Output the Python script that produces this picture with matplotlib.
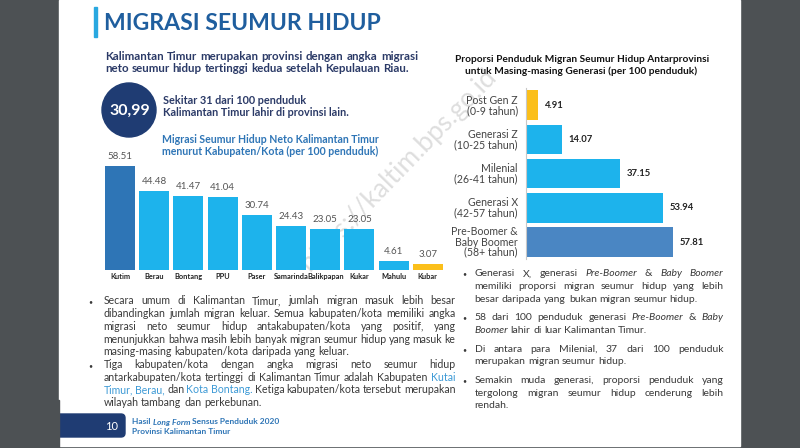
import matplotlib
matplotlib.use("Agg")
import matplotlib.pyplot as plt
from matplotlib.patches import Rectangle, Circle, FancyBboxPatch

plt.rcParams['font.family'] = ['Lato', 'DejaVu Sans']

# --- data ---
kab_names = ['Kutim', 'Berau', 'Bontang', 'PPU', 'Paser', 'Samarinda',
             'Balikpapan', 'Kukar', 'Mahulu', 'Kubar']
kab_values = [58.51, 44.48, 41.47, 41.04, 30.74, 24.43, 23.05, 23.05, 4.61, 3.07]

gen_labels = ['Post Gen Z\n(0-9 tahun)', 'Generasi Z\n(10-25 tahun)',
              'Milenial\n(26-41 tahun)', 'Generasi X\n(42-57 tahun)',
              'Pre-Boomer &\nBaby Boomer\n(58+ tahun)']
gen_values = [4.91, 14.07, 37.15, 53.94, 57.81]

left_bullets = [
    ["Secara umum di Kalimantan Timur, jumlah migran masuk lebih besar",
     "dibandingkan jumlah migran keluar. Semua kabupaten/kota memiliki angka",
     "migrasi neto seumur hidup antakabupaten/kota yang positif, yang",
     "menunjukkan bahwa masih lebih banyak migran seumur hidup yang masuk ke",
     "masing-masing kabupaten/kota daripada yang keluar."],
    ["Tiga kabupaten/kota dengan angka migrasi neto seumur hidup",
     "antarkabupaten/kota tertinggi di Kalimantan Timur adalah Kabupaten ~Kutai",
     "~Timur, ~Berau, dan ~Kota ~Bontang. Ketiga kabupaten/kota tersebut merupakan",
     "wilayah tambang dan perkebunan."],
]
right_bullets = [
    ["Generasi X, generasi _Pre-Boomer & _Baby _Boomer",
     "memiliki proporsi migran seumur hidup yang lebih",
     "besar daripada yang bukan migran seumur hidup."],
    ["58 dari 100 penduduk generasi _Pre-Boomer & _Baby",
     "_Boomer lahir di luar Kalimantan Timur."],
    ["Di antara para Milenial, 37 dari 100 penduduk",
     "merupakan migran seumur hidup."],
    ["Semakin muda generasi, proporsi penduduk yang",
     "tergolong migran seumur hidup cenderung lebih",
     "rendah."],
]

# colours
NAVY = '#1f3c73'
DARK_TEXT = '#2b3a67'
TITLE_BLUE = '#1f5e9e'
MID_BLUE = '#2e75b6'
SKY = '#1db3ec'
YELLOW = '#fbbf1a'
BODY = '#3a3a3a'
LINK = '#3d9ad6'

kab_colors = [MID_BLUE] + [SKY] * 8 + [YELLOW]
gen_colors = [YELLOW, SKY, SKY, SKY, '#4a86c3']

fig = plt.figure(figsize=(8, 4.48), dpi=100, facecolor='#4d5154')
bg = fig.add_axes([0, 0, 1, 1])
bg.set_xlim(0, 800)
bg.set_ylim(448, 0)
bg.axis('off')
bg.add_patch(Rectangle((58.5, 0), 681, 446, color='white', zorder=0))
renderer = fig.canvas.get_renderer()


def word_props(tok):
    props = dict(color=BODY, style='normal')
    if tok.startswith('~'):
        props['color'] = LINK
        tok = tok[1:]
    if tok.startswith('_'):
        props['style'] = 'italic'
        tok = tok[1:]
    return tok, props


def draw_line(line, x0, x1, y, size, justify=True, weight='normal', base_color=None):
    words = []
    for tok in line.split():
        w, p = word_props(tok)
        if base_color is not None and p['color'] == BODY:
            p['color'] = base_color
        words.append((w, p))
    widths = []
    for w, p in words:
        t = bg.text(0, 0, w, fontsize=size, weight=weight, **p)
        widths.append(t.get_window_extent(renderer).width)
        t.remove()
    space = size * 100 / 72 * 0.25
    if justify and len(words) > 1:
        gap = max((x1 - x0 - sum(widths)) / (len(words) - 1), space * 0.6)
    else:
        gap = space
    x = x0
    for (w, p), wd in zip(words, widths):
        bg.text(x, y, w, fontsize=size, weight=weight, ha='left', va='baseline', zorder=5, **p)
        x += wd + gap


def draw_paragraphs(paras, bullet_x, x0, x1, baselines, size):
    k = 0
    for para in paras:
        for j, line in enumerate(para):
            y = baselines[k]
            if j == 0:
                bg.text(bullet_x, y - 2.5, '•', fontsize=5, color=BODY, ha='left', va='center')
            draw_line(line, x0, x1, y, size, justify=(j < len(para) - 1))
            k += 1


# --- header ---
bg.add_patch(Rectangle((94, 7), 2.5, 30, color='#29a8e0'))
bg.text(104, 30, 'MIGRASI SEUMUR HIDUP', fontsize=16.6, weight='bold',
        color=TITLE_BLUE, ha='left', va='baseline')

draw_line('Kalimantan Timur merupakan provinsi dengan angka migrasi', 105, 418, 60,
          8.3, justify=True, weight='bold', base_color=DARK_TEXT)
draw_line('neto seumur hidup tertinggi kedua setelah Kepulauan Riau.', 105, 418, 72.5,
          8.3, justify=False, weight='bold', base_color=DARK_TEXT)

bg.add_patch(Circle((129, 110), 27, color=NAVY, zorder=3))
bg.text(129.5, 110.5, '30,99', fontsize=11.5, weight='bold', color='white',
        ha='center', va='center', zorder=4)
bg.text(163, 103.5, 'Sekitar 31 dari 100 penduduk', fontsize=7.8, weight='bold',
        color=DARK_TEXT, ha='left', va='baseline')
bg.text(163, 116, 'Kalimantan Timur lahir di provinsi lain.', fontsize=7.8, weight='bold',
        color=DARK_TEXT, ha='left', va='baseline')

bg.text(162.5, 143, 'Migrasi Seumur Hidup Neto Kalimantan Timur', fontsize=7.6,
        weight='bold', color=MID_BLUE, ha='left', va='baseline')
bg.text(161.5, 155, 'menurut Kabupaten/Kota (per 100 penduduk)', fontsize=7.6,
        weight='bold', color=MID_BLUE, ha='left', va='baseline')

bg.text(582, 62.5, 'Proporsi Penduduk Migran Seumur Hidup Antarprovinsi', fontsize=7.25,
        weight='bold', color='#111111', ha='center', va='baseline')
bg.text(581, 74, 'untuk Masing-masing Generasi (per 100 penduduk)', fontsize=7.25,
        weight='bold', color='#111111', ha='center', va='baseline')

# --- left bar chart ---
pitch = 34.2
ymax = 65
px_per_unit = 1.769
ax1 = fig.add_axes([(120 - pitch / 2) / 800, (448 - 269.5) / 448,
                    10 * pitch / 800, ymax * px_per_unit / 448])
ax1.set_xlim(-0.5, 9.5)
ax1.set_ylim(0, ymax)
ax1.bar(range(len(kab_values)), kab_values, width=0.88, color=kab_colors)
for i, v in enumerate(kab_values):
    ax1.annotate(f'{v:.2f}', (i, v), xytext=(0, 7), textcoords='offset points',
                 ha='center', va='center', fontsize=7, color='#555555')
    ax1.annotate(kab_names[i], (i, 0), xytext=(0, -5.2), textcoords='offset points',
                 ha='center', va='center', fontsize=5.3, weight='bold', color='#222222',
                 annotation_clip=False)
ax1.axis('off')

# --- right horizontal bar chart ---
rp = 34.2
ax2 = fig.add_axes([526 / 800, (448 - 259.1) / 448, 80 * 2.543 / 800, 5 * rp / 448])
ax2.set_xlim(0, 80)
ax2.set_ylim(4.5, -0.5)
ax2.barh(range(len(gen_values)), gen_values, height=0.86, color=gen_colors)
for i, v in enumerate(gen_values):
    ax2.annotate(f'{v:.2f}', (v, i), xytext=(4.5, 0), textcoords='offset points',
                 ha='left', va='center', fontsize=6.8, weight='bold', color='#222222')
    ax2.annotate(gen_labels[i], (0, i), xytext=(-5.8, 0), textcoords='offset points',
                 ha='right', va='center', fontsize=7.6, color='#444444',
                 linespacing=0.92, annotation_clip=False)
for s in ['top', 'right', 'bottom']:
    ax2.spines[s].set_visible(False)
ax2.spines['left'].set_color('#c8c8c8')
ax2.spines['left'].set_linewidth(0.8)
ax2.set_xticks([])
ax2.set_yticks([])
ax2.patch.set_alpha(0)

# --- bullet text ---
left_base = [304.5 + 12.7 * k for k in range(9)]
draw_paragraphs(left_bullets, 88.5, 103.5, 455.5, left_base, 7.6)
right_base = [276.3, 289, 302, 320.3, 333, 351.7, 364.3, 383, 395.7, 408]
draw_paragraphs(right_bullets, 462, 474.5, 723.5, right_base, 7.45)

# --- footer ---
bg.add_patch(FancyBboxPatch((45, 414), 80, 23, boxstyle='round,pad=0,rounding_size=4',
                            color=NAVY, zorder=2))
bg.add_patch(Rectangle((0, 400), 58.5, 48, color='#4d5154', zorder=3))
bg.text(112, 426, '10', fontsize=8, color='white', ha='center', va='center', zorder=4)
fx = 132.5
for txt, st in [('Hasil ', 'normal'), ('Long Form', 'italic'), (' Sensus Penduduk 2020', 'normal')]:
    t = bg.text(fx, 424.5, txt, fontsize=6, weight='bold', style=st, color=MID_BLUE,
                ha='left', va='baseline')
    fx += t.get_window_extent(renderer).width
bg.text(132.5, 434, 'Provinsi Kalimantan Timur', fontsize=6, weight='bold', color=MID_BLUE,
        ha='left', va='baseline')

# watermark
bg.text(398, 170, 'https://kaltim.bps.go.id', fontsize=19, color='#8a8a8a', alpha=0.28,
        rotation=46, ha='center', va='center', zorder=10)

fig.savefig('out.png', dpi=100, facecolor=fig.get_facecolor())
